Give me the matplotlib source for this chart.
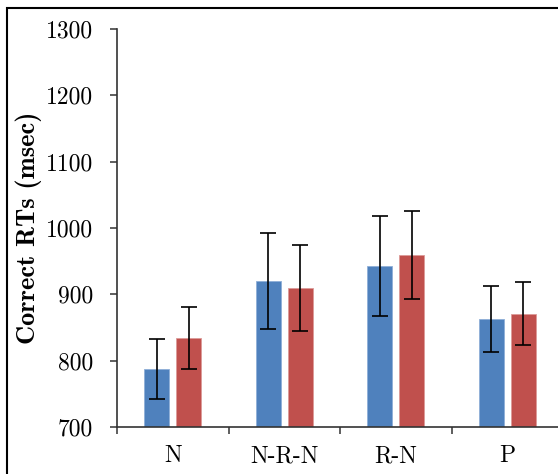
import matplotlib
matplotlib.use("Agg")
import matplotlib.pyplot as plt
from matplotlib.patches import Rectangle
import numpy as np

plt.rcParams["axes.formatter.use_mathtext"] = True

# Mean correct response times per condition, with error bar half-widths
conditions = ["N", "N-R-N", "R-N", "P"]
blue_means = [787, 920, 943, 863]
blue_errs = [45, 72, 75, 50]
red_means = [834, 910, 959, 871]
red_errs = [47, 65, 66, 47]
y_ticks = [700, 800, 900, 1000, 1100, 1200, 1300]

BLUE = "#4F81BD"
RED = "#C0504D"

W, H = 558, 474
fig = plt.figure(figsize=(W / 100, H / 100), dpi=100)
ax = fig.add_axes([117 / W, 47 / H, 446 / W, 398 / H])

x = np.arange(len(conditions))
off, bw = 0.143, 0.224
err_kw = dict(ecolor="black", elinewidth=1.2, capsize=5.8, capthick=1.2)
ax.bar(x - off, blue_means, bw, bottom=0, color=BLUE, edgecolor="#8FAFD8",
       linewidth=0.6, yerr=blue_errs, error_kw=err_kw, zorder=2)
ax.bar(x + off, red_means, bw, bottom=0, color=RED, edgecolor="#DC9A98",
       linewidth=0.6, yerr=red_errs, error_kw=err_kw, zorder=2)

ax.set_ylim(700, 1300)
ax.set_xlim(-0.5, len(conditions) - 0.5)

ax.set_yticks(y_ticks)
ax.set_yticklabels([str(v) for v in y_ticks], fontfamily="cmr10", fontsize=17)
ax.tick_params(axis="y", direction="out", length=5, width=1.1, pad=12,
               color="#333333")

ax.set_xticks(np.arange(-0.5, len(conditions), 1.0))
ax.set_xticklabels([])
ax.set_xticks(x, minor=True)
ax.set_xticklabels(conditions, minor=True, fontfamily="cmr10", fontsize=17)
ax.tick_params(axis="x", which="major", direction="out", length=5, width=1.1,
               color="#333333")
ax.tick_params(axis="x", which="minor", length=0, pad=13)

for side in ("top", "right"):
    ax.spines[side].set_visible(False)
for side in ("left", "bottom"):
    ax.spines[side].set_color("#333333")
    ax.spines[side].set_linewidth(1.2)

ax.set_ylabel("Correct RTs (msec)", fontfamily="cmb10", fontsize=19)
ax.yaxis.set_label_coords(-0.168, 0.5)

# Outer frame around the figure
fig.patches.append(Rectangle((7 / W, -0.1), 1.2, 1.1 - 8 / H,
                             transform=fig.transFigure, fill=False,
                             edgecolor="black", linewidth=1.5))

fig.savefig("out.png", dpi=100)
